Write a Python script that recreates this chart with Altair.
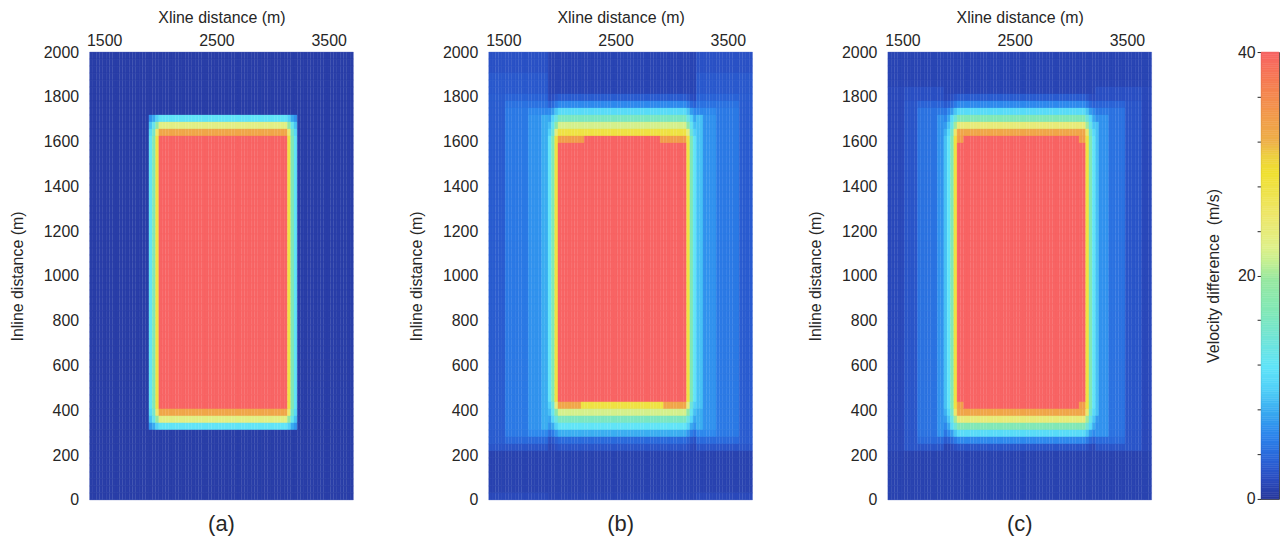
import altair as alt
import numpy as np
import pandas as pd

# ---------------- grid / axes ----------------
NX, NY = 80, 64
X_MIN, X_MAX = 1370, 3720
Y_MIN, Y_MAX = 0, 2000
X_TICKS = [1500, 2500, 3500]
Y_TICKS = list(range(0, 2001, 200))
CBAR_TICKS = list(range(0, 41, 4))
PANEL_LABELS = ["(a)", "(b)", "(c)"]

# colour map (value -> colour)
CMAP_VALUES = [0, 1.8, 3.6, 5.7, 7.7, 9.8, 11.9, 14.3, 16.7, 19.7, 21.4, 22.6,
               25.6, 29.2, 30.7, 32, 34.5, 37.5, 40]
CMAP_COLORS = ["#28379c", "#2a4cc0", "#2a64d8", "#2c84ec", "#38a8f0", "#50d0f8",
               "#60e4f8", "#70e4d8", "#80e8b8", "#98e8a0", "#c8f090", "#e0f088",
               "#eee668", "#f0e030", "#eed040", "#eeb048", "#f2984a", "#f67a52",
               "#f86464"]

# ---------------- profiles (run length: count, value) ----------------
# columns left->right (80 cells), rows top->bottom (64 cells)
# core = the anomaly and its bands; halo = lateral smear, capped row by row
A_CORE_COLS = [(18, 0), (1, 12), (1, 17), (1, 28), (39, 40), (1, 28), (1, 17), (1, 12), (17, 0)]
A_CORE_ROWS = [(9, 0), (1, 12), (1, 23), (1, 33), (39, 40), (1, 33), (1, 23), (1, 12), (10, 0)]
A_HALO_COLS = [(80, 0.6)]
A_HALO_CAPS = [(64, 99)]
A_PATCHES = []

B_CORE_COLS = [(17, 0), (1, 8), (1, 12), (1, 17), (1, 28), (39, 40), (1, 28), (1, 17), (1, 12), (1, 9), (16, 0)]
B_CORE_ROWS = [(6, 0), (1, 3), (1, 6), (1, 11), (1, 16), (1, 22), (1, 28), (38, 40), (1, 28), (1, 22),
               (1, 16), (1, 12), (1, 8), (1, 4), (1, 2.5), (7, 0)]
B_HALO_COLS = [(5, 3), (7, 5), (4, 6.5), (2, 8), (45, 1.2), (2, 9), (4, 6.5), (7, 5), (4, 3)]
B_HALO_CAPS = [(3, 2.2), (3, 2.8), (1, 3.5), (1, 4.5), (1, 6), (42, 99), (3, 8), (1, 6), (1, 4),
               (1, 2.5), (6, 1.0), (1, 1.5)]
# (row, first col, last col, value): orange ends of the red block
B_PATCHES = [(12, 21, 28, 34), (12, 52, 59, 34), (50, 21, 27, 33), (50, 53, 59, 33)]

C_CORE_COLS = [(17, 0), (1, 9), (1, 12), (1, 17), (1, 28), (39, 40), (1, 28), (1, 17), (1, 12), (1, 9), (16, 0)]
C_CORE_ROWS = [(6, 0), (1, 3), (1, 6), (1, 11), (1, 17), (1, 24), (1, 33), (39, 40), (1, 33), (1, 24),
               (1, 17), (1, 11), (1, 6), (1, 2.5), (7, 0)]
C_HALO_COLS = [(5, 1.5), (4, 2.5), (6, 4.5), (2, 6.5), (46, 1.2), (1, 9), (3, 6.5), (5, 4.5), (5, 2.5), (3, 1.5)]
C_HALO_CAPS = [(5, 1.2), (2, 2.0), (1, 3.5), (1, 5), (1, 6.5), (42, 99), (3, 6.5), (1, 4), (1, 2.5), (7, 1.0)]
C_PATCHES = [(12, 21, 22, 34), (12, 58, 59, 34), (50, 21, 22, 34), (50, 58, 59, 34)]

BACKGROUND = 0.6


def expand(rle):
    out = []
    for n, v in rle:
        out += [v] * n
    return out


def build_grid(core_cols, core_rows, halo_cols, halo_caps, patches):
    c, r = expand(core_cols), expand(core_rows)
    h, cap = expand(halo_cols), expand(halo_caps)
    over = {}
    for row, c0, c1, val in patches:
        for i in range(c0, c1 + 1):
            over[(row, i)] = val
    dx = (X_MAX - X_MIN) / NX
    dy = (Y_MAX - Y_MIN) / NY
    recs = []
    for k in range(NY):
        ytop = Y_MAX - k * dy
        for i in range(NX):
            lo, hi = sorted((c[i], r[k]))
            core = lo * np.sqrt(hi / 40.0) if hi > 0 else 0.0
            v = max(core, min(h[i], cap[k]), BACKGROUND)
            v = over.get((k, i), v)
            recs.append((X_MIN + i * dx, X_MIN + (i + 1) * dx, ytop - dy, ytop, round(float(v), 2)))
    return pd.DataFrame(recs, columns=["x0", "x1", "y0", "y1", "v"])


CSCALE = alt.Scale(domain=CMAP_VALUES, range=CMAP_COLORS, interpolate="rgb", clamp=True)
FONT = "Liberation Sans"
TXT = "#262626"


def panel(df, label):
    return alt.Chart(df).mark_rect(strokeWidth=0.3).encode(
        x=alt.X("x0:Q", scale=alt.Scale(domain=[X_MIN, X_MAX], nice=False, zero=False),
                axis=alt.Axis(orient="top", values=X_TICKS, format="d", title="Xline distance (m)",
                              ticks=False, domain=False, grid=False, labelPadding=4, titlePadding=7)),
        x2="x1:Q",
        y=alt.Y("y0:Q", scale=alt.Scale(domain=[Y_MIN, Y_MAX], nice=False, zero=False),
                axis=alt.Axis(values=Y_TICKS, format="d", title="Inline distance (m)",
                              ticks=False, domain=False, grid=False, labelPadding=11, titlePadding=18)),
        y2="y1:Q",
        color=alt.Color("v:Q", scale=CSCALE, legend=None),
        stroke=alt.Stroke("v:Q", scale=CSCALE, legend=None),
    ).properties(
        width=265, height=450,
        title=alt.TitleParams(label, orient="bottom", fontSize=22, fontWeight="normal",
                              font=FONT, color=TXT, offset=6),
    )


panels = [
    panel(build_grid(A_CORE_COLS, A_CORE_ROWS, A_HALO_COLS, A_HALO_CAPS, A_PATCHES), PANEL_LABELS[0]),
    panel(build_grid(B_CORE_COLS, B_CORE_ROWS, B_HALO_COLS, B_HALO_CAPS, B_PATCHES), PANEL_LABELS[1]),
    panel(build_grid(C_CORE_COLS, C_CORE_ROWS, C_HALO_COLS, C_HALO_CAPS, C_PATCHES), PANEL_LABELS[2]),
]

# colour bar
steps = np.linspace(0, 40, 201)
cb = pd.DataFrame({"lo": steps[:-1], "hi": steps[1:], "mid": (steps[:-1] + steps[1:]) / 2,
                   "a": 0.0, "b": 1.0})
cbar = alt.Chart(cb).mark_rect(strokeWidth=0.5).encode(
    x=alt.X("a:Q", scale=alt.Scale(domain=[0, 1], nice=False),
            axis=alt.Axis(orient="top", values=[0.5], title=None, labelOpacity=0,
                          ticks=False, domain=False, grid=False, labelPadding=26)),
    x2="b:Q",
    y=alt.Y("lo:Q", scale=alt.Scale(domain=[0, 40], nice=False),
            axis=alt.Axis(values=CBAR_TICKS, labelExpr="datum.value % 20 == 0 ? datum.label : ''",
                          tickSize=4, ticks=True, tickColor=TXT, domain=False, grid=False,
                          title="Velocity difference\u00a0 (m/s)", labelPadding=2, titlePadding=16)),
    y2="hi:Q",
    color=alt.Color("mid:Q", scale=CSCALE, legend=None),
    stroke=alt.Stroke("mid:Q", scale=CSCALE, legend=None),
).properties(width=18, height=449, view=alt.ViewBackground(stroke="#444444", strokeWidth=1))

chart = alt.hconcat(
    alt.hconcat(*panels, spacing=54),
    cbar,
    spacing=52,
).properties(
    padding={"left": 1, "top": 0, "right": 0, "bottom": 0}
).configure_view(
    strokeWidth=0
).configure_axis(
    labelFont=FONT, titleFont=FONT, labelFontSize=16, titleFontSize=16,
    labelColor=TXT, titleColor=TXT, titleFontWeight="normal",
)

chart.save("out.html", embed_options={"renderer": "svg", "actions": False})
